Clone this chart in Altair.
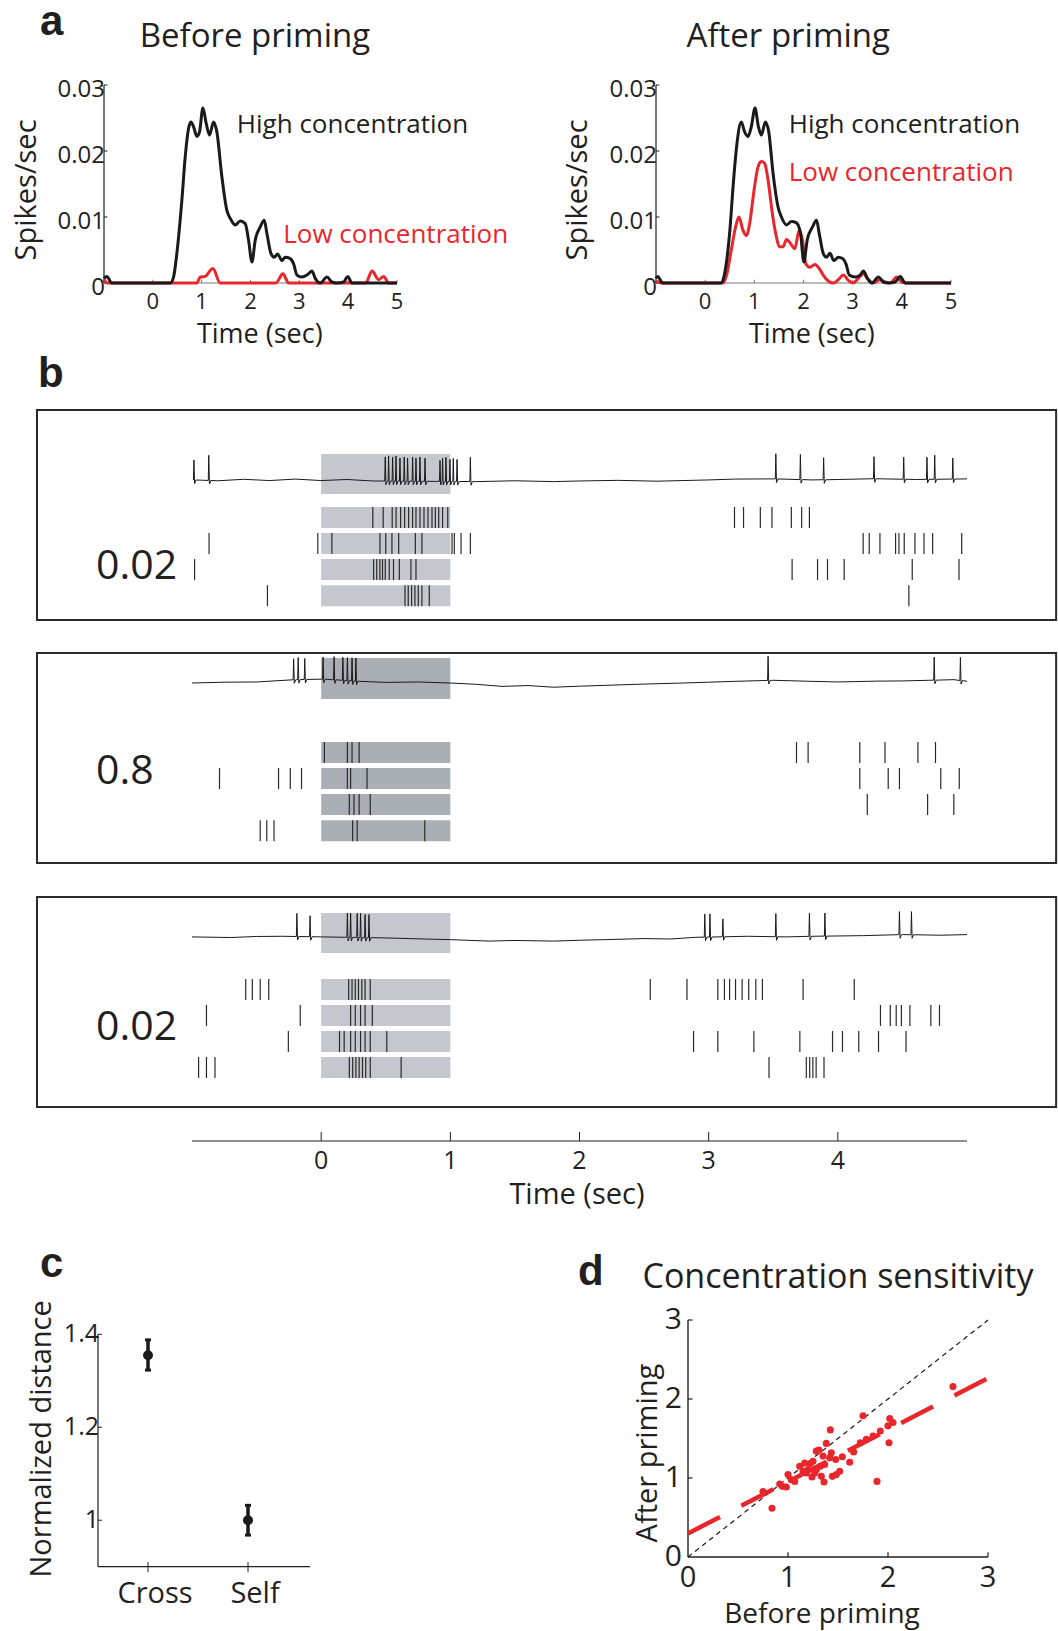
import altair as alt
import numpy as np
import pandas as pd

FONT = "Open Sans"
BOLD_FONT = "Liberation Sans"
INK = "#231f20"
RED = "#e8262b"
GREY_LIGHT = "#c4c8ce"
GREY_DARK = "#aaaeb5"

# ---------------- Panel a : PSTHs (time s, spikes/sec) ----------------
BEFORE_HIGH = [(-1.0, 0.0007), (-0.943, 0.001), (-0.84, 0.0), (0.355, 0.0), (0.424, 0.0009),
               (0.492, 0.0045), (0.594, 0.0125), (0.663, 0.0191), (0.731, 0.0234), (0.779, 0.0244),
               (0.833, 0.0237), (0.902, 0.0222), (0.956, 0.0229), (1.025, 0.0265), (1.093, 0.0242),
               (1.161, 0.0224), (1.243, 0.0244), (1.311, 0.0229), (1.414, 0.0161), (1.516, 0.011),
               (1.585, 0.0098), (1.687, 0.0088), (1.79, 0.0094), (1.892, 0.009), (1.96, 0.0065),
               (2.029, 0.0032), (2.097, 0.0065), (2.199, 0.0085), (2.281, 0.0095), (2.336, 0.0075),
               (2.418, 0.0045), (2.486, 0.0039), (2.555, 0.0044), (2.643, 0.0034), (2.712, 0.0039),
               (2.814, 0.0037), (2.883, 0.0029), (2.951, 0.0012), (3.053, 0.0009), (3.156, 0.0012),
               (3.258, 0.0018), (3.326, 0.0007), (3.429, 0.0), (3.566, 0.0009), (3.668, 0.00015),
               (3.77, 0.0), (3.907, 0.00015), (3.989, 0.001), (4.078, 0.0), (5.0, 0.0)]
BEFORE_LOW = [(-1.0, 0.0005), (-0.93, 0.0), (0.9, 0.0), (0.97, 0.0009), (1.072, 0.001), (1.23, 0.0022),
              (1.38, 0.0), (2.52, 0.0), (2.664, 0.0014), (2.78, 0.0), (4.36, 0.0), (4.488, 0.0018),
              (4.624, 0.0005), (4.727, 0.001), (4.83, 0.0), (5.0, 0.0)]
AFTER_HIGH = [(-1.0, 0.0007), (-0.966, 0.001), (-0.864, 0.0), (0.327, 0.0), (0.395, 0.0014),
              (0.497, 0.0075), (0.578, 0.0156), (0.646, 0.0211), (0.735, 0.0244), (0.803, 0.0229),
              (0.871, 0.0222), (0.939, 0.0237), (1.014, 0.0265), (1.082, 0.0237), (1.143, 0.0224),
              (1.224, 0.0244), (1.293, 0.0229), (1.381, 0.0166), (1.483, 0.0115), (1.551, 0.01),
              (1.653, 0.0088), (1.755, 0.0093), (1.857, 0.0091), (1.939, 0.0075), (2.007, 0.0032),
              (2.075, 0.0065), (2.184, 0.0085), (2.265, 0.0095), (2.32, 0.0075), (2.401, 0.0045),
              (2.469, 0.0039), (2.537, 0.0045), (2.619, 0.0034), (2.707, 0.0039), (2.796, 0.0037),
              (2.864, 0.0029), (2.932, 0.0012), (3.048, 0.0009), (3.15, 0.0012), (3.218, 0.0018),
              (3.299, 0.0007), (3.388, 0.0), (3.524, 0.0009), (3.626, 0.00015), (3.728, 0.0),
              (3.864, 0.00015), (3.966, 0.001), (4.068, 0.0), (5.0, 0.0)]
AFTER_LOW = [(-1.0, 0.0003), (-0.9, 0.0), (0.361, 0.0), (0.442, 0.0014), (0.531, 0.005), (0.619, 0.0085),
             (0.687, 0.01), (0.769, 0.008), (0.837, 0.0072), (0.905, 0.009), (0.986, 0.0136),
             (1.075, 0.0176), (1.143, 0.0184), (1.211, 0.0181), (1.279, 0.0156), (1.367, 0.0105),
             (1.435, 0.0075), (1.517, 0.0055), (1.585, 0.0055), (1.653, 0.0066), (1.735, 0.006),
             (1.823, 0.0052), (1.912, 0.008), (1.98, 0.0065), (2.048, 0.0029), (2.129, 0.0024),
             (2.231, 0.0028), (2.32, 0.0022), (2.401, 0.0012), (2.503, 0.0003), (2.605, 0.0),
             (2.707, 0.0005), (2.81, 0.0012), (2.912, 0.0004), (3.0, 0.0), (3.116, 0.0007),
             (3.218, 0.0014), (3.32, 0.0005), (3.422, 0.0), (3.558, 0.0005), (3.66, 0.00015),
             (3.762, 0.0), (3.898, 0.0009), (4.0, 0.00015), (4.102, 0.0), (5.0, 0.0)]
A_YTICKS = [0.0, 0.01, 0.02, 0.03]
A_YTICK_LABELS = ["0", "0.01", "0.02", "0.03"]
A_XTICKS = [0, 1, 2, 3, 4, 5]

# ---------------- Panel b : example traces and rasters ----------------
B_LABELS = ["0.02", "0.8", "0.02"]
B1_SPIKES = [-0.985, -0.87, 0.496, 0.522, 0.553, 0.579, 0.61, 0.643, 0.669, 0.708, 0.734, 0.765, 0.804,
             0.92, 0.94, 0.966, 0.997, 1.023, 1.052, 1.155, 3.52, 3.71, 3.89, 4.28, 4.51, 4.69, 4.75, 4.89]
B1_HEIGHTS = [0.95, 1.2, 1.15, 1.2, 1.15, 1.2, 1.1, 1.15, 1.1, 1.15, 1.1, 1.15, 1.1, 1.0, 1.1, 1.15,
              1.05, 1.1, 1.05, 1.15, 1.2, 1.2, 1.05, 1.05, 1.05, 1.05, 1.15, 1.0]
B1_DRIFT_T = [-1.0, -0.8, -0.6, -0.4, -0.2, 0.0, 0.2, 0.4, 1.2, 1.5, 1.8, 2.0, 2.3, 2.6, 3.0, 3.2, 3.5,
              3.8, 4.0, 4.3, 4.6, 5.0]
B1_DRIFT_V = [0.0, -0.04, 0.03, -0.03, 0.04, -0.03, 0.02, -0.05, -0.08, -0.04, -0.08, -0.05, -0.02,
              -0.06, 0.0, 0.04, 0.05, 0.0, 0.02, 0.06, 0.02, 0.05]
B1_RASTER = [
    [0.40, 0.48, 0.55, 0.58, 0.615, 0.646, 0.677, 0.708, 0.734, 0.765, 0.796, 0.827, 0.858, 0.884, 0.91,
     0.94, 0.98, 3.20, 3.27, 3.40, 3.49, 3.64, 3.72, 3.78],
    [-0.868, -0.026, 0.083, 0.455, 0.50, 0.548, 0.60, 0.729, 0.78, 1.013, 1.031, 1.083, 1.155, 4.196,
     4.243, 4.326, 4.447, 4.473, 4.514, 4.597, 4.667, 4.734, 4.959],
    [-0.98, 0.406, 0.43, 0.455, 0.475, 0.496, 0.527, 0.56, 0.605, 0.695, 0.734, 3.646, 3.843, 3.92,
     4.049, 4.576, 4.938],
    [-0.416, 0.649, 0.674, 0.70, 0.726, 0.752, 0.78, 0.837, 4.55],
]
B2_SPIKES = [-0.213, -0.178, -0.127, 0.015, 0.10, 0.168, 0.203, 0.239, 0.269, 3.46, 4.746, 4.949]
B2_HEIGHTS = [1.0, 1.05, 1.0, 1.05, 1.1, 1.1, 1.1, 1.1, 1.1, 1.15, 1.1, 1.1]
B2_DRIFT_T = [-1.0, -0.75, -0.5, -0.2, 0.0, 0.3, 0.5, 0.75, 1.0, 1.2, 1.4, 1.6, 1.8, 2.0, 2.2, 2.5, 2.8,
              3.0, 3.2, 3.5, 3.8, 4.0, 4.3, 4.5, 4.7, 4.9, 5.0]
B2_DRIFT_V = [0.0, 0.04, 0.05, 0.16, 0.19, 0.08, 0.03, 0.05, 0.0, -0.06, -0.16, -0.12, -0.2, -0.15,
              -0.11, -0.05, 0.0, 0.04, 0.08, 0.13, 0.08, 0.05, 0.09, 0.1, 0.13, 0.16, 0.08]
B2_RASTER = [
    [0.025, 0.203, 0.239, 0.294, 3.68, 3.77, 4.17, 4.365, 4.62, 4.756],
    [-0.787, -0.33, -0.239, -0.152, 0.203, 0.228, 0.355, 4.17, 4.39, 4.477, 4.797, 4.94],
    [0.218, 0.254, 0.294, 0.38, 4.228, 4.695, 4.898],
    [-0.472, -0.421, -0.365, 0.244, 0.279, 0.802],
]
B3_SPIKES = [-0.188, -0.086, 0.203, 0.228, 0.279, 0.305, 0.34, 0.37, 2.97, 3.01, 3.11, 3.52, 3.78, 3.90,
             4.477, 4.57]
B3_HEIGHTS = [1.1, 1.0, 1.15, 1.15, 1.15, 1.15, 1.1, 1.1, 1.1, 1.1, 0.85, 1.1, 1.1, 1.1, 1.1, 1.1]
B3_DRIFT_T = [-1.0, -0.7, -0.5, -0.3, 0.0, 0.5, 0.8, 1.0, 1.3, 1.5, 1.8, 2.0, 2.2, 2.5, 2.7, 2.9, 3.3,
              3.6, 3.8, 4.2, 4.5, 4.8, 5.0]
B3_DRIFT_V = [0.0, -0.03, 0.02, 0.03, 0.0, -0.05, -0.1, -0.13, -0.2, -0.17, -0.2, -0.16, -0.13, -0.08,
              -0.1, -0.02, 0.03, 0.0, 0.03, 0.06, 0.11, 0.08, 0.11]
B3_RASTER = [
    [-0.584, -0.533, -0.472, -0.406, 0.213, 0.239, 0.264, 0.289, 0.315, 0.34, 0.38, 2.548, 2.832, 3.071,
     3.122, 3.162, 3.208, 3.259, 3.31, 3.365, 3.416, 3.731, 4.127],
    [-0.888, -0.162, 0.228, 0.264, 0.305, 0.34, 0.396, 4.33, 4.406, 4.452, 4.492, 4.558, 4.72, 4.787],
    [-0.254, 0.142, 0.178, 0.228, 0.264, 0.305, 0.34, 0.38, 0.508, 2.883, 3.071, 3.35, 3.706, 3.959,
     4.036, 4.162, 4.315, 4.528],
    [-0.949, -0.888, -0.822, 0.218, 0.244, 0.269, 0.294, 0.32, 0.345, 0.38, 0.619, 3.467, 3.756, 3.782,
     3.807, 3.832, 3.893],
]
B_TICKS = [0, 1, 2, 3, 4]
STIM_ON, STIM_OFF = 0.0, 1.0

# ---------------- Panel c ----------------
C_CATS = ["Cross", "Self"]
C_POS = [1, 2]
C_MEAN = [1.355, 1.0]
C_LO = [1.323, 0.968]
C_HI = [1.388, 1.032]
C_YTICKS = [1.0, 1.2, 1.4]
C_YTICK_LABELS = ["1", "1.2", "1.4"]

# ---------------- Panel d ----------------
D_BEFORE = [1.75, 1.423, 1.383, 1.283, 1.31, 1.35, 1.433, 1.25, 1.223, 1.2, 1.15, 1.183, 1.24, 1.333,
            1.36, 1.443, 1.483, 1.517, 1.543, 1.477, 1.417, 1.323, 1.367, 1.283, 1.267, 1.617, 1.657,
            1.723, 1.783, 1.85, 1.923, 2.0, 2.017, 2.05, 2.01, 1.89, 2.65, 1.0, 1.033, 1.067, 0.983,
            0.917, 0.943, 0.84, 0.75, 1.117, 1.167]
D_AFTER = [1.787, 1.609, 1.438, 1.34, 1.353, 1.277, 1.319, 1.213, 1.183, 1.106, 1.085, 1.064, 1.013,
           1.021, 0.949, 1.021, 1.043, 1.085, 1.268, 1.234, 1.255, 1.149, 1.17, 1.106, 1.064, 1.2, 1.328,
           1.447, 1.489, 1.532, 1.596, 1.66, 1.753, 1.702, 1.447, 0.957, 2.157, 1.043, 0.979, 0.957, 0.885,
           0.923, 0.894, 0.617, 0.83, 1.149, 1.191]
D_FIT = [(0.0, 0.298), (3.0, 2.264)]
D_IDENTITY = [(0.0, 0.0), (3.0, 3.0)]
D_TICKS = [0, 1, 2, 3]


# ---------------- helpers ----------------
def lin(domain, rng):
    return alt.Scale(domain=domain, range=rng, nice=False, zero=False)


def X(field, s):
    return alt.X(field, type="quantitative", scale=s, axis=None)


def Y(field, s):
    return alt.Y(field, type="quantitative", scale=s, axis=None)


def texts(rows, xs, ys, **kw):
    df = pd.DataFrame(rows, columns=["x", "y", "label"])
    style = dict(font=FONT, color=INK)
    style.update(kw)
    return alt.Chart(df).mark_text(**style).encode(x=X("x", xs), y=Y("y", ys), text="label:N")


def rules(rows, xs, ys, **kw):
    df = pd.DataFrame(rows, columns=["x", "y", "x2", "y2"])
    style = dict(color=INK, strokeWidth=1)
    style.update(kw)
    return alt.Chart(df).mark_rule(**style).encode(
        x=X("x", xs), y=Y("y", ys), x2="x2:Q", y2="y2:Q")


def line(pts, xs, ys, **kw):
    df = pd.DataFrame(pts, columns=["t", "v"])
    df["i"] = range(len(df))
    return alt.Chart(df).mark_line(**kw).encode(x=X("t", xs), y=Y("v", ys), order="i:Q")


def rects(rows, xs, ys, **kw):
    df = pd.DataFrame(rows, columns=["x", "y", "x2", "y2"])
    return alt.Chart(df).mark_rect(**kw).encode(x=X("x", xs), y=Y("y", ys), x2="x2:Q", y2="y2:Q")


layers = []

# ---------------- Panel a ----------------
A_PANELS = [
    ("Before priming", BEFORE_HIGH, BEFORE_LOW, [104, 397], 2.09, 2.19, (1.72, 0.0239), (2.67, 0.0073), "a"),
    ("After priming", AFTER_HIGH, AFTER_LOW, [656, 951], 1.69, 2.17, (1.70, 0.0239), (1.70, 0.0167), None),
]
for title, hi, lo, xr, tx, lx, hpos, lpos, letter in A_PANELS:
    xs = lin([-1, 5], xr)
    ys = lin([0, 0.03], [283, 85])
    parts = [
        rules([(-1, 0, 5, 0)], xs, ys, color="#7a7a7a", strokeWidth=1.2),
        rules([(t, 0, t, 0.0005) for t in A_XTICKS], xs, ys, color="#7a7a7a", strokeWidth=1),
        rules([(-1, 0, -1, 0.03)], xs, ys, strokeWidth=1.2),
        rules([(-1, v, -0.93, v) for v in A_YTICKS], xs, ys, strokeWidth=1),
        line(lo, xs, ys, color=RED, strokeWidth=3, interpolate="monotone"),
        line(hi, xs, ys, color="#1a1a1a", strokeWidth=3, interpolate="monotone"),
        texts([(v_t, 0, str(v_t)) for v_t in A_XTICKS], xs, ys, fontSize=22, align="center",
              baseline="middle", dy=19),
        texts([(-1, v, s) for v, s in zip(A_YTICKS, A_YTICK_LABELS)], xs, ys, fontSize=24,
              align="right", baseline="middle", dx=1, dy=5),
        texts([(tx, 0.0373, title)], xs, ys, fontSize=33, align="center", baseline="middle"),
        texts([(lx, -0.0079, "Time (sec)")], xs, ys, fontSize=27, align="center",
              baseline="middle"),
        texts([(-2.58, 0.0141, "Spikes/sec")], xs, ys, fontSize=29, align="center",
              baseline="middle", angle=270),
        texts([(hpos[0], hpos[1], "High concentration")], xs, ys, fontSize=26, align="left",
              baseline="middle"),
        texts([(lpos[0], lpos[1], "Low concentration")], xs, ys, fontSize=26, align="left",
              baseline="middle", color=RED),
    ]
    if letter:
        parts.append(texts([(-1, 0.03, letter)], xs, ys, font=BOLD_FONT, fontWeight="bold",
                            fontSize=42, align="left", baseline="alphabetic", dx=-64, dy=-50))
    layers.append(alt.layer(*parts))

# ---------------- Panel b ----------------
B_XR = [192, 967]
BOX_T = (-2.2, 5.69)
BOX_PX = [(410, 620), (653, 863), (897, 1107)]
TRACE_BASE = [6.67, 8.57, 8.1]
STIM_BAND = [(6.0, 7.9), (7.81, 9.76), (7.33, 9.24)]
ROW1 = [4.88, 5.26, 5.6]
ROW_STEP = 1.24
ROW_HALF = 0.5
STIM_COLOR = [GREY_LIGHT, GREY_DARK, GREY_LIGHT]
LABEL_Y = [2.52, 4.33, 3.76]

BOXES = [
    (B1_SPIKES, B1_HEIGHTS, B1_DRIFT_T, B1_DRIFT_V, B1_RASTER),
    (B2_SPIKES, B2_HEIGHTS, B2_DRIFT_T, B2_DRIFT_V, B2_RASTER),
    (B3_SPIKES, B3_HEIGHTS, B3_DRIFT_T, B3_DRIFT_V, B3_RASTER),
]


def build_trace(spikes, heights, dt, dv, base):
    pts = []
    for t, v in zip(dt, dv):
        if all(abs(t - s) > 0.02 for s in spikes):
            pts.append((t, base + v))
    for s, h in zip(spikes, heights):
        b = base + float(np.interp(s, dt, dv))
        pts += [(s - 0.004, b), (s, b + h), (s + 0.005, b - 0.17), (s + 0.016, b)]
    pts.sort()
    return pts


for k, (spk, hts, dt, dv, raster) in enumerate(BOXES):
    xs = lin([-1, 5], B_XR)
    ys = lin([0, 10], [BOX_PX[k][1], BOX_PX[k][0]])
    stim = [(STIM_ON, STIM_BAND[k][0], STIM_OFF, STIM_BAND[k][1])]
    stim += [(STIM_ON, ROW1[k] - r * ROW_STEP - ROW_HALF, STIM_OFF, ROW1[k] - r * ROW_STEP + ROW_HALF)
             for r in range(4)]
    ticks = []
    for r, row in enumerate(raster):
        c = ROW1[k] - r * ROW_STEP
        ticks += [(t, c - ROW_HALF, t, c + ROW_HALF) for t in row]
    parts = [
        rects(stim, xs, ys, color=STIM_COLOR[k]),
        rects([(BOX_T[0], 0, BOX_T[1], 10)], xs, ys, fillOpacity=0, stroke="#2b2b2b", strokeWidth=2),
        rules(ticks, xs, ys, color="#2a2a2a", strokeWidth=1.2),
        line(build_trace(spk, hts, dt, dv, TRACE_BASE[k]), xs, ys, color="#1a1a1a", strokeWidth=1),
        texts([(-1.743, LABEL_Y[k], B_LABELS[k])], xs, ys, fontSize=41, align="left",
              baseline="middle"),
    ]
    if k == 0:
        parts.append(texts([(BOX_T[0], 10, "b")], xs, ys, font=BOLD_FONT, fontWeight="bold",
                           fontSize=42, align="left", baseline="alphabetic", dx=1, dy=-23))
    layers.append(alt.layer(*parts))

# time axis for panel b
xs = lin([-1, 5], B_XR)
ys = lin([0, 1], [1141, 1131])
layers.append(alt.layer(
    rules([(-1, 0, 5, 0)], xs, ys, strokeWidth=1.2),
    rules([(t, 0, t, 0.9) for t in B_TICKS], xs, ys, strokeWidth=1),
    texts([(t, 0, str(t)) for t in B_TICKS], xs, ys, fontSize=25, align="center", baseline="middle",
          dy=20),
    texts([(1.98, 0, "Time (sec)")], xs, ys, fontSize=29, align="center", baseline="middle", dy=54),
))

# ---------------- Panel c ----------------
xs = lin([0.5, 2.62], [98, 310])
ys = lin([0.9, 1.4], [1566.7, 1334.3])
cdf = pd.DataFrame({"x": C_POS, "m": C_MEAN, "lo": C_LO, "hi": C_HI})
caps = [(p - 0.03, v, p + 0.03, v) for p, a, b in zip(C_POS, C_LO, C_HI) for v in (a, b)]
layers.append(alt.layer(
    rules([(0.5, 0.9, 2.62, 0.9)], xs, ys, strokeWidth=1.2),
    rules([(0.5, 0.9, 0.5, 1.4)], xs, ys, strokeWidth=1.2),
    rules([(0.5, v, 0.54, v) for v in C_YTICKS], xs, ys, strokeWidth=1),
    rules([(p, 0.888, p, 0.91) for p in C_POS], xs, ys, strokeWidth=1),
    alt.Chart(cdf).mark_rule(color="#1a1a1a", strokeWidth=3.5).encode(
        x=X("x", xs), y=Y("lo", ys), y2="hi:Q"),
    rules(caps, xs, ys, color="#1a1a1a", strokeWidth=3),
    alt.Chart(cdf).mark_circle(color="#1a1a1a", opacity=1, size=100).encode(x=X("x", xs), y=Y("m", ys)),
    texts([(0.5, v, s) for v, s in zip(C_YTICKS, C_YTICK_LABELS)], xs, ys, fontSize=25, align="right",
          baseline="middle", dx=1),
    texts([(p, 0.9, s) for p, s in zip(C_POS, C_CATS)], xs, ys, fontSize=29, align="center",
          baseline="middle", dx=7, dy=27),
    texts([(-0.06, 1.175, "Normalized distance")], xs, ys, fontSize=29, align="center",
          baseline="middle", angle=270),
    texts([(0.5, 1.4, "c")], xs, ys, font=BOLD_FONT, fontWeight="bold", fontSize=42, align="left",
          baseline="alphabetic", dx=-58, dy=-57),
))

# ---------------- Panel d ----------------
xs = lin([0, 3], [688, 988])
ys = lin([0, 3], [1557, 1320])
ddf = pd.DataFrame({"b": D_BEFORE, "a": D_AFTER})
layers.append(alt.layer(
    rules([(0, 0, 3, 0)], xs, ys, strokeWidth=1.4),
    rules([(0, 0, 0, 3)], xs, ys, strokeWidth=1.4),
    rules([(t, 0, t, 0.06) for t in D_TICKS[1:]], xs, ys, strokeWidth=1.2),
    rules([(0, t, 0.045, t) for t in D_TICKS[1:]], xs, ys, strokeWidth=1.2),
    line(D_IDENTITY, xs, ys, color="#1a1a1a", strokeWidth=1.2, strokeDash=[5, 4]),
    alt.Chart(ddf).mark_circle(color=RED, opacity=1, size=50).encode(x=X("b", xs), y=Y("a", ys)),
    line(D_FIT, xs, ys, color=RED, strokeWidth=4.5, strokeDash=[36, 24]),
    texts([(t, 0, str(t)) for t in D_TICKS], xs, ys, fontSize=29, align="center", baseline="middle",
          dy=21),
    texts([(0, t, str(t)) for t in D_TICKS], xs, ys, fontSize=30, align="right", baseline="middle",
          dx=-6),
    texts([(1.34, 3.53, "Concentration sensitivity")], xs, ys, fontSize=34, align="center",
          baseline="middle", dx=16),
    texts([(1.34, -0.73, "Before priming")], xs, ys, fontSize=28, align="center", baseline="middle"),
    texts([(-0.4, 1.316, "After priming")], xs, ys, fontSize=29, align="center", baseline="middle",
          angle=270),
    texts([(0, 3, "d")], xs, ys, font=BOLD_FONT, fontWeight="bold", fontSize=42, align="left",
          baseline="alphabetic", dx=-110, dy=-35),
))

chart = alt.layer(*layers).resolve_scale(x="independent", y="independent").properties(
    width=1058, height=1631, autosize=alt.AutoSizeParams(type="none"), padding=0, background="white"
).configure_view(stroke=None)

chart.save("out.html", embed_options={"renderer": "svg", "actions": False})
